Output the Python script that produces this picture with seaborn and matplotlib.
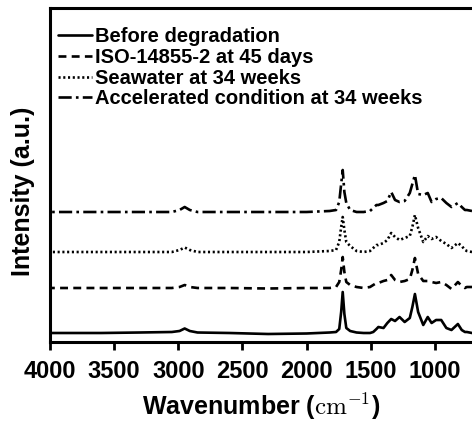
import matplotlib
matplotlib.use("Agg")
import matplotlib.pyplot as plt
import seaborn as sns
import pandas as pd

# ---- data ----
wavenumber = [4000, 3600, 3300, 3050, 2990, 2950, 2910, 2850, 2600, 2300, 2000, 1820, 1770,
              1745, 1730, 1718, 1705, 1690, 1660, 1610, 1555, 1505, 1480, 1455, 1440, 1400,
              1370, 1340, 1310, 1275, 1235, 1195, 1175, 1155, 1130, 1090, 1055, 1025, 990,
              950, 910, 870, 820, 790, 765, 750, 710]

before = [9, 9, 9.5, 10, 11, 13.5, 11, 9.5, 9, 8, 8.5, 9.5, 10,
          13, 30, 50, 28, 14, 11, 9.5, 9, 9, 10, 13, 15, 14,
          19, 23, 21, 25, 20, 24, 35, 48, 30, 17, 25, 19, 22,
          22, 14, 12, 18, 12, 10, 10, 9]

iso = [54, 54, 54, 54, 55, 57, 55, 54, 54, 53.5, 54, 54, 55,
       60, 72, 85, 70, 60, 57, 55, 54, 55, 57, 59, 59, 61,
       62, 67, 62, 60, 61, 63, 72, 84, 68, 61, 61, 60, 59,
       60, 57, 53, 60, 56, 54, 55, 55]

seawater = [90, 90, 90, 90, 92, 94.5, 92, 90, 90, 90, 90, 91, 92,
            100, 115, 125, 112, 100, 96, 91, 90, 91, 94, 97, 97, 99,
            102, 109, 105, 102, 104, 106, 115, 127, 114, 100, 106, 103, 105,
            101, 98, 94, 99, 96, 92, 91, 90]

accelerated = [130, 130, 130, 130, 132, 135, 132, 130, 130, 130, 130, 131, 132,
               140, 158, 172, 150, 139, 132, 130, 130, 131, 134, 137, 137, 139,
               141, 150, 142, 140, 141, 149, 158, 167, 148, 147, 149, 140, 143,
               144, 139, 135, 139, 135, 132, 132, 131]

labels = ["Before degradation", "ISO-14855-2 at 45 days",
          "Seawater at 34 weeks", "Accelerated condition at 34 weeks"]
x_ticks = [4000, 3500, 3000, 2500, 2000, 1500, 1000]

frames = []
for lab, vals in zip(labels, [before, iso, seawater, accelerated]):
    frames.append(pd.DataFrame({"wn": wavenumber, "I": vals, "s": lab}))
df = pd.concat(frames, ignore_index=True)

# ---- style ----
sns.set_style("ticks")
plt.rcParams["font.family"] = ["Liberation Sans", "DejaVu Sans"]
plt.rcParams["font.weight"] = "bold"
plt.rcParams["mathtext.fontset"] = "cm"
plt.rcParams["text.color"] = "black"
plt.rcParams["axes.labelcolor"] = "black"
plt.rcParams["xtick.color"] = "black"
plt.rcParams["ytick.color"] = "black"

fig = plt.figure(figsize=(4.72, 4.22), dpi=100)
W, H = 472, 422
ax = fig.add_axes([50 / W, (H - 342) / H, (472 - 50) / W, (342 - 8) / H])

dashes = {
    labels[0]: "",
    labels[1]: (3.0, 2.0),
    labels[2]: (0.8, 1.0),
    labels[3]: (5.0, 1.6, 1.0, 1.6),
}
sns.lineplot(data=df, x="wn", y="I", hue="s", style="s", dashes=dashes,
             palette=["black"] * 4, linewidth=1.9, ax=ax, legend=True,
             estimator=None, sort=True)

ax.set_xlim(4000, 710)
ax.set_ylim(0, 334)
ax.set_xticks(x_ticks)
ax.set_xticklabels([str(t) for t in x_ticks], fontsize=17, fontweight="bold")
ax.set_yticks([])
ax.tick_params(axis="x", direction="out", length=6, width=2, pad=7)

for side in ["left", "bottom", "top"]:
    ax.spines[side].set_linewidth(2.2)
    ax.spines[side].set_color("black")
ax.spines["right"].set_visible(False)

ax.set_xlabel(r"Wavenumber ($\mathrm{cm}^{-1}$)", fontsize=18, fontweight="bold", labelpad=6)
ax.set_ylabel("Intensity (a.u.)", fontsize=18, fontweight="bold")
ax.yaxis.set_label_coords(-0.036, 0.45)

handles, labs = ax.get_legend_handles_labels()
leg = ax.legend(handles, labs, loc="upper left", frameon=False,
                prop={"size": 14.5, "weight": "bold"}, handlelength=1.7,
                handletextpad=0.15, labelspacing=0.08, borderaxespad=0.0,
                borderpad=0.4, bbox_to_anchor=(0.0, 0.966))
for h in leg.get_lines():
    h.set_linewidth(1.9)
for t in leg.get_texts():
    t.set_color("black")

fig.savefig("out.png", dpi=100)
